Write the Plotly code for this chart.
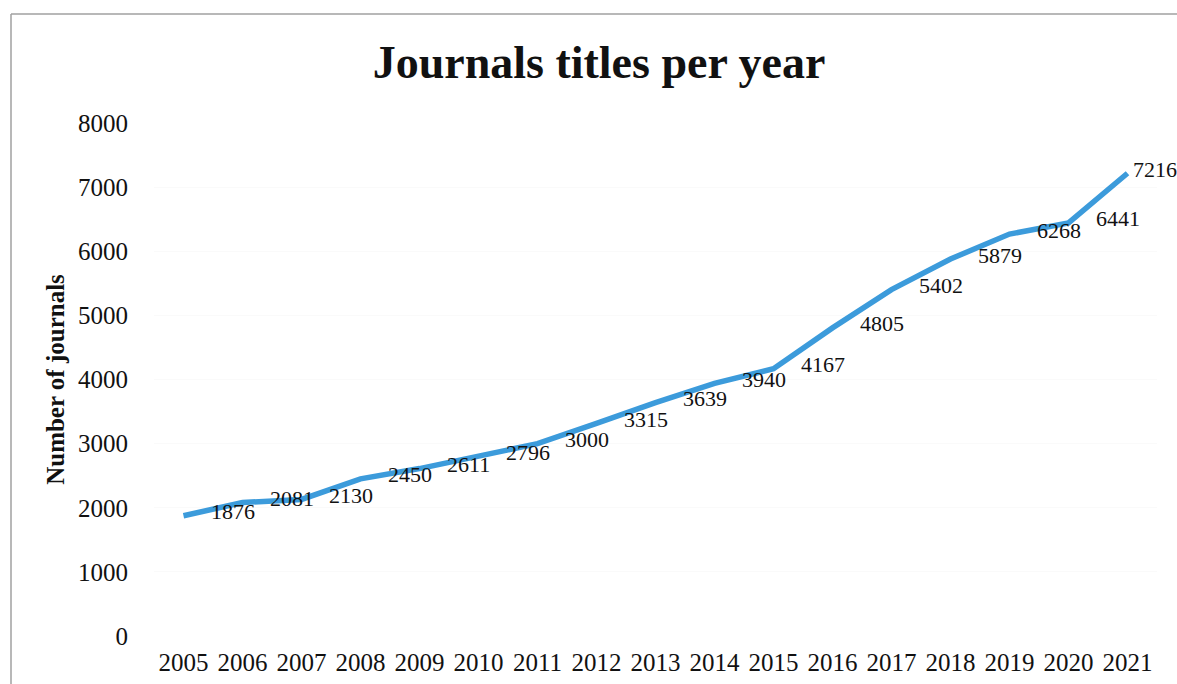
import plotly.graph_objects as go

# Journal titles counted per year
years = [2005, 2006, 2007, 2008, 2009, 2010, 2011, 2012, 2013,
         2014, 2015, 2016, 2017, 2018, 2019, 2020, 2021]
journals = [1876, 2081, 2130, 2450, 2611, 2796, 3000, 3315, 3639,
            3940, 4167, 4805, 5402, 5879, 6268, 6441, 7216]
y_ticks = [0, 1000, 2000, 3000, 4000, 5000, 6000, 7000, 8000]

SERIF = "Liberation Serif, Times New Roman, serif"
LINE_BLUE = "#3c9bdb"

W, H = 1177, 684
M_L, M_R, M_T, M_B = 154, 20, 123, 48
plot_w = W - M_L - M_R
plot_h = H - M_T - M_B

fig = go.Figure()
fig.add_trace(go.Scatter(
    x=years, y=journals, mode="lines",
    line=dict(color=LINE_BLUE, width=5.5),
    hoverinfo="x+y", showlegend=False,
))

# value labels to the right of each point
for i, (yr, v) in enumerate(zip(years, journals)):
    last = i == len(years) - 1
    fig.add_annotation(
        x=yr, y=v, text=str(v), showarrow=False,
        xanchor="left", yanchor="middle",
        xshift=3 if last else 25, yshift=4,
        font=dict(family=SERIF, size=22, color="#111111"),
    )

# thin outline around the chart area
def px_to_paper_x(px):
    return (px - M_L) / plot_w

def px_to_paper_y(py):
    return (H - M_B - py) / plot_h

border = dict(color="#a0a0a0", width=1.5)
fig.add_shape(type="line", xref="paper", yref="paper",
              x0=px_to_paper_x(11), x1=px_to_paper_x(W + 5),
              y0=px_to_paper_y(14), y1=px_to_paper_y(14), line=border)
fig.add_shape(type="line", xref="paper", yref="paper",
              x0=px_to_paper_x(11), x1=px_to_paper_x(11),
              y0=px_to_paper_y(14), y1=px_to_paper_y(H + 5), line=border)

fig.update_layout(
    width=W, height=H,
    margin=dict(l=M_L, r=M_R, t=M_T, b=M_B),
    paper_bgcolor="white", plot_bgcolor="white",
    title=dict(
        text="<b>Journals titles per year</b>",
        x=599 / W, xanchor="center",
        y=1 - 62 / H, yanchor="middle",
        font=dict(family=SERIF, size=46, color="#111111"),
    ),
    xaxis=dict(
        range=[years[0] - 0.5, years[-1] + 0.5],
        tickvals=years, ticktext=[str(y) for y in years],
        showgrid=False, zeroline=False, showline=False, automargin=False,
        ticks="outside", ticklen=4, tickcolor="rgba(0,0,0,0)",
        tickfont=dict(family=SERIF, size=25, color="#111111"),
    ),
    yaxis=dict(
        range=[0, 8000], tickvals=y_ticks,
        showgrid=True, gridcolor="#fafafa", gridwidth=1,
        zeroline=False, showline=False, automargin=False,
        ticks="outside", ticklen=20, tickcolor="rgba(0,0,0,0)",
        tickfont=dict(family=SERIF, size=25, color="#111111"),
        title=dict(
            text="<b>Number of journals</b>", standoff=6,
            font=dict(family=SERIF, size=25, color="#111111"),
        ),
    ),
)

fig.write_html("out.html")
